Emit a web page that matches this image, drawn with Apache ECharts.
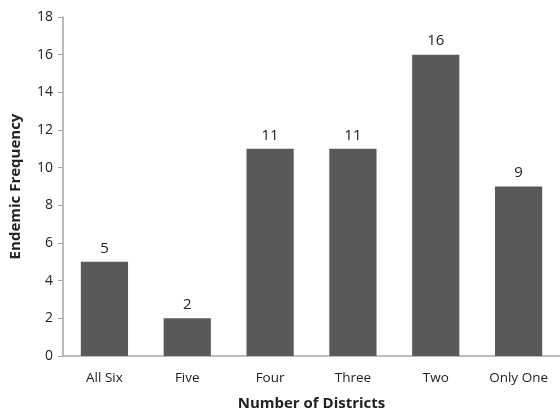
<!DOCTYPE html>
<html>
<head>
<meta charset="utf-8">
<script src="https://cdn.jsdelivr.net/npm/echarts@6/dist/echarts.min.js"></script>
<style>
  html, body { margin: 0; padding: 0; background: #fff; }
  #main { width: 560px; height: 416px; }
</style>
</head>
<body>
<div id="main"></div>
<script>
// data
var categories = ['All Six', 'Five', 'Four', 'Three', 'Two', 'Only One'];
var values = [5, 2, 11, 11, 16, 9];
var yTicks = { min: 0, max: 18, interval: 2 };

var myChart = echarts.init(document.getElementById('main'));

var option = {
    animation: false,
    backgroundColor: '#fff',
    textStyle: { fontFamily: 'Open Sans' },
    grid: { left: 63, right: 0, top: 17, bottom: 54 },
    xAxis: {
        type: 'category',
        data: categories,
        name: 'Number of Districts',
        nameLocation: 'middle',
        nameGap: 40,
        nameTextStyle: { fontSize: 15, fontWeight: 'bold', color: '#222' },
        axisLine: { lineStyle: { color: '#a6a6a6', width: 1.5 } },
        axisTick: { show: false },
        axisLabel: { fontSize: 13.5, color: '#222', margin: 15 }
    },
    yAxis: {
        type: 'value',
        min: yTicks.min,
        max: yTicks.max,
        interval: yTicks.interval,
        name: 'Endemic Frequency',
        nameLocation: 'middle',
        nameGap: 40,
        nameTextStyle: { fontSize: 15, fontWeight: 'bold', color: '#222' },
        axisLine: { show: true, lineStyle: { color: '#a6a6a6', width: 1.5 } },
        axisTick: { show: true, length: 5, lineStyle: { color: '#a6a6a6' } },
        axisLabel: { fontSize: 14, color: '#222', margin: 10 },
        splitLine: { show: false }
    },
    series: [{
        type: 'bar',
        data: values,
        barWidth: '57%',
        itemStyle: { color: '#595959' },
        label: { show: true, position: 'top', fontSize: 15, color: '#222', distance: 6 }
    }]
};

myChart.setOption(option);
</script>
</body>
</html>
